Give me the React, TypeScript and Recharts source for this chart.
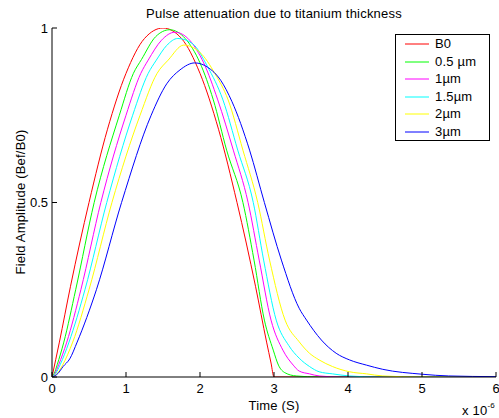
import React from 'react';
import { LineChart, Line, XAxis, YAxis, Legend } from 'recharts';

const FONT = '"Liberation Sans", Arial, Helvetica, sans-serif';
const FS = 13;
const LS = '0.2px';

const seriesNames = ['B0', '0.5 µm', '1µm', '1.5µm', '2µm', '3µm'];
const seriesColors = ['#ff0000', '#00ff00', '#ff00ff', '#00ffff', '#ffff00', '#0000ff'];

// [time (x1e-6 s), amplitude]
const b0Points = [
  [0, 0], [0.1, 0.1], [0.25, 0.26], [0.5, 0.5], [0.75, 0.71], [1, 0.87], [1.25, 0.97], [1.5, 1],
  [1.75, 0.97], [2, 0.87], [2.25, 0.71], [2.5, 0.5], [2.75, 0.26], [2.9, 0.1], [2.96, 0.04], [3, 0], [6, 0],
];
const um05Points = [
  [0, 0], [0.03, 0.01], [0.07, 0.035], [0.16, 0.1], [0.32, 0.25], [0.57, 0.5], [0.91, 0.75], [1.1, 0.87],
  [1.21, 0.91], [1.4, 0.975], [1.59, 0.995], [1.8, 0.97], [2.0, 0.9], [2.18, 0.794], [2.36, 0.65],
  [2.58, 0.5], [2.73, 0.335], [2.87, 0.163], [2.99, 0.077], [3.06, 0.034], [3.15, 0.012], [3.3, 0.003],
  [3.6, 0], [6, 0],
];
const um1Points = [
  [0, 0], [0.04, 0.01], [0.09, 0.035], [0.2, 0.1], [0.39, 0.25], [0.66, 0.5], [1.0, 0.75], [1.2, 0.87],
  [1.3, 0.908], [1.48, 0.965], [1.66, 0.988], [1.86, 0.965], [2.05, 0.9], [2.24, 0.794], [2.45, 0.65],
  [2.65, 0.5], [2.8, 0.335], [2.96, 0.163], [3.12, 0.077], [3.26, 0.034], [3.34, 0.017], [3.48, 0.009],
  [3.61, 0.003], [3.9, 0], [6, 0],
];
const um15Points = [
  [0, 0], [0.05, 0.01], [0.11, 0.035], [0.23, 0.1], [0.445, 0.25], [0.74, 0.5], [1.09, 0.75], [1.3, 0.87],
  [1.41, 0.908], [1.55, 0.95], [1.7, 0.97], [1.9, 0.955], [2.1, 0.89], [2.31, 0.794], [2.51, 0.65],
  [2.72, 0.5], [2.86, 0.335], [3.03, 0.163], [3.2, 0.09], [3.34, 0.054], [3.48, 0.03], [3.61, 0.015],
  [3.79, 0.009], [4.02, 0.003], [4.4, 0], [6, 0],
];
const um2Points = [
  [0, 0], [0.07, 0.01], [0.14, 0.033], [0.28, 0.1], [0.5, 0.25], [0.81, 0.5], [1.19, 0.75], [1.42, 0.87],
  [1.57, 0.908], [1.78, 0.951], [2.0, 0.93], [2.2, 0.87], [2.38, 0.794], [2.58, 0.65], [2.78, 0.5],
  [2.94, 0.335], [3.15, 0.163], [3.34, 0.101], [3.48, 0.068], [3.61, 0.049], [3.79, 0.03], [4.02, 0.015],
  [4.25, 0.009], [4.47, 0.003], [5.0, 0], [6, 0],
];
const um3Points = [
  [0, 0], [0.08, 0.01], [0.15, 0.03], [0.24, 0.052], [0.34, 0.1], [0.6, 0.25], [0.94, 0.5], [1.34, 0.75],
  [1.55, 0.84], [1.73, 0.88], [1.93, 0.9], [2.1, 0.888], [2.28, 0.85], [2.43, 0.79], [2.67, 0.65],
  [2.87, 0.5], [3.1, 0.335], [3.34, 0.197], [3.44, 0.163], [3.64, 0.106], [3.84, 0.068], [4.02, 0.049],
  [4.25, 0.034], [4.47, 0.022], [5.0, 0.008], [5.36, 0.003], [6, 0.001],
];

const allPoints = [b0Points, um05Points, um1Points, um15Points, um2Points, um3Points];

const xTicks = [0, 1, 2, 3, 4, 5, 6];
const xTickLabels = ['0', '1', '2', '3', '4', '5', '6'];
const yTicks = [0, 0.5, 1];
const yTickLabels = ['0', '0.5', '1'];

const titleText = 'Pulse attenuation due to titanium thickness';
const xLabelText = 'Time (S)';
const yLabelText = 'Field Amplitude (Bef/B0)';

const toRows = (pts: number[][]) => pts.map(([t, v]) => ({ t, v }));

const labelFor = (ticks: number[], labels: string[], v: number) => {
  const i = ticks.indexOf(v);
  return i >= 0 ? labels[i] : String(v);
};

const BottomTick = (props: any) => {
  const { x, y, payload } = props;
  return (
    <g>
      <line x1={x} x2={x} y1={y} y2={y - 5} stroke="#000" />
      <text x={x} y={y + 15.5} textAnchor="middle" fontFamily={FONT} fontSize={FS} fill="#000">
        {labelFor(xTicks, xTickLabels, payload.value)}
      </text>
    </g>
  );
};
const TopTick = (props: any) => {
  const { x, y } = props;
  return <line x1={x} x2={x} y1={y} y2={y + 5} stroke="#000" />;
};
const LeftTick = (props: any) => {
  const { x, y, payload } = props;
  return (
    <g>
      <line x1={x} x2={x + 5} y1={y} y2={y} stroke="#000" />
      <text x={x - 4} y={y + 4.5} textAnchor="end" fontFamily={FONT} fontSize={FS} fill="#000">
        {labelFor(yTicks, yTickLabels, payload.value)}
      </text>
    </g>
  );
};
const RightTick = (props: any) => {
  const { x, y } = props;
  return <line x1={x} x2={x - 5} y1={y} y2={y} stroke="#000" />;
};

const LegendBox = () => (
  <div
    style={{
      width: 95,
      height: 107,
      border: '1px solid #000',
      background: '#fff',
      boxSizing: 'border-box',
      fontFamily: FONT,
      fontSize: FS,
      letterSpacing: LS,
      position: 'relative',
      color: '#000',
    }}
  >
    {seriesNames.map((name, i) => (
      <div
        key={name}
        style={{
          position: 'absolute',
          left: 0,
          top: 2 + i * 17.6,
          height: 14,
          display: 'flex',
          alignItems: 'center',
          whiteSpace: 'nowrap',
        }}
      >
        <svg width={39} height={14} style={{ display: 'block' }}>
          <line x1={9} x2={33} y1={7} y2={7} stroke={seriesColors[i]} strokeWidth={1} />
        </svg>
        <span style={{ lineHeight: '14px' }}>{name}</span>
      </div>
    ))}
  </div>
);

const textBase: React.CSSProperties = {
  position: 'absolute',
  lineHeight: '14px',
  fontSize: FS,
  letterSpacing: LS,
  whiteSpace: 'nowrap',
};

export default function App() {
  return (
    <div
      style={{
        position: 'absolute',
        left: 0,
        top: 0,
        width: 499,
        height: 418,
        background: '#fff',
        fontFamily: FONT,
        color: '#000',
        overflow: 'hidden',
      }}
    >
      <LineChart width={499} height={418} margin={{ top: 28, right: 3, bottom: 0, left: 0 }}>
        <XAxis
          xAxisId="bottom"
          type="number"
          dataKey="t"
          domain={[0, 6]}
          ticks={xTicks}
          interval={0}
          allowDataOverflow
          height={41}
          tickSize={0}
          tickMargin={0}
          tickLine={false}
          axisLine={{ stroke: '#000' }}
          tick={<BottomTick />}
        />
        <XAxis
          xAxisId="top"
          orientation="top"
          type="number"
          dataKey="t"
          domain={[0, 6]}
          ticks={xTicks}
          interval={0}
          allowDataOverflow
          height={0}
          tickSize={0}
          tickMargin={0}
          tickLine={false}
          axisLine={{ stroke: '#000' }}
          tick={<TopTick />}
        />
        <YAxis
          yAxisId="left"
          type="number"
          domain={[0, 1]}
          ticks={yTicks}
          interval={0}
          allowDataOverflow
          width={52}
          tickSize={0}
          tickMargin={0}
          tickLine={false}
          axisLine={{ stroke: '#000' }}
          tick={<LeftTick />}
        />
        <YAxis
          yAxisId="right"
          orientation="right"
          type="number"
          domain={[0, 1]}
          ticks={yTicks}
          interval={0}
          allowDataOverflow
          width={0}
          tickSize={0}
          tickMargin={0}
          tickLine={false}
          axisLine={{ stroke: '#000' }}
          tick={<RightTick />}
        />
        {allPoints.map((pts, i) => (
          <Line
            key={seriesNames[i]}
            xAxisId="bottom"
            yAxisId="left"
            data={toRows(pts)}
            dataKey="v"
            name={seriesNames[i]}
            type="monotone"
            stroke={seriesColors[i]}
            strokeWidth={1}
            dot={false}
            activeDot={false}
            isAnimationActive={false}
          />
        ))}
        <Legend
          layout="vertical"
          align="center"
          verticalAlign="middle"
          wrapperStyle={{ left: 395, top: 34, width: 95, height: 107 }}
          content={() => <LegendBox />}
        />
      </LineChart>
      <div style={{ ...textBase, left: 52, width: 444, top: 7, textAlign: 'center' }}>{titleText}</div>
      <div style={{ ...textBase, left: 52, width: 444, top: 399, textAlign: 'center' }}>{xLabelText}</div>
      <div
        style={{
          ...textBase,
          left: 21 - 100,
          top: 202 - 7,
          width: 200,
          height: 14,
          textAlign: 'center',
          transform: 'rotate(-90deg)',
        }}
      >
        {yLabelText}
      </div>
      <div style={{ ...textBase, left: 462, top: 404 }}>
        x 10
        <span style={{ fontSize: 8, position: 'relative', top: -7 }}>-6</span>
      </div>
    </div>
  );
}
